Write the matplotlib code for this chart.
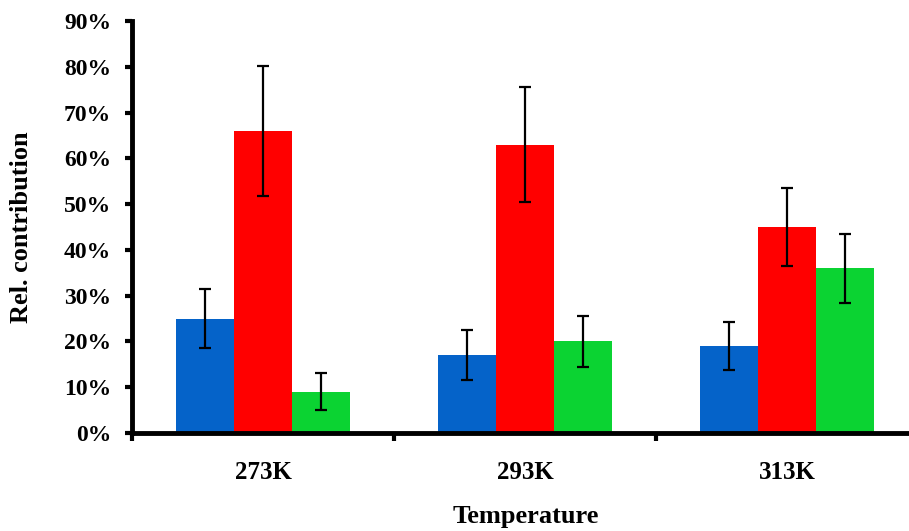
import matplotlib
matplotlib.use("Agg")
import matplotlib.pyplot as plt
import numpy as np
from matplotlib.ticker import FuncFormatter, FixedLocator

categories = ["273K", "293K", "313K"]
blue_vals = [25, 17, 19]
red_vals = [66, 63, 45]
green_vals = [9, 20, 36]
blue_err = [6.5, 5.5, 5.3]
red_err = [14.2, 12.5, 8.5]
green_err = [4.0, 5.5, 7.5]
colors = ["#0563C9", "#FF0000", "#0BD332"]

plt.rcParams['font.family'] = ['Liberation Serif', 'DejaVu Serif']
plt.rcParams['font.weight'] = 'bold'

W, H = 909, 531
fig = plt.figure(figsize=(W / 100, H / 100), dpi=100)
left, right, bottom, top = 132, 908, 433, 21
ax = fig.add_axes([left / W, (H - bottom) / H, (right - left) / W, (bottom - top) / H])

x = np.arange(len(categories))
w = 0.222
series = [(blue_vals, blue_err), (red_vals, red_err), (green_vals, green_err)]
for i, (vals, errs) in enumerate(series):
    ax.bar(x + (i - 1) * w, vals, width=w, color=colors[i], yerr=errs,
           error_kw=dict(ecolor='black', elinewidth=1.6, capsize=4.5, capthick=1.6),
           zorder=2)

cat_px = 262.0
ax.set_xlim(-0.5, -0.5 + (right - left) / cat_px)
ax.set_ylim(0, 90)
ax.yaxis.set_major_locator(FixedLocator(np.arange(0, 91, 10)))
ax.yaxis.set_major_formatter(FuncFormatter(lambda v, p: f"{v:.0f}%"))
ax.set_xticks(x)
ax.set_xticklabels(categories)
ax.set_xticks([-0.5, 0.5, 1.5], minor=True)
ax.tick_params(axis='x', which='major', length=0, pad=20, labelsize=18)
ax.tick_params(axis='x', which='minor', length=6, width=3, direction='out')
ax.tick_params(axis='y', length=5, width=3, direction='out', labelsize=17, pad=10)

for s in ['top', 'right']:
    ax.spines[s].set_visible(False)
for s in ['left', 'bottom']:
    ax.spines[s].set_linewidth(3.5)

ax.set_ylabel("Rel. contribution", fontsize=19, fontweight='bold')
ax.set_xlabel("Temperature", fontsize=19, fontweight='bold')
ax.yaxis.set_label_coords((22 - left) / (right - left), 0.5 + (433 - 232 - (bottom - top) / 2) / (bottom - top) * 0 )
ax.xaxis.set_label_coords((526 - left) / (right - left), -(517 - bottom) / (bottom - top))
ax.xaxis.label.set_va('center')
ax.yaxis.label.set_va('center')

fig.savefig("out.png", dpi=100)
